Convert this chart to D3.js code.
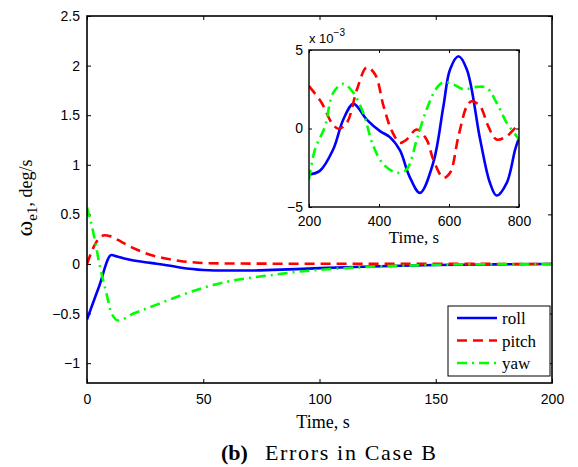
<!DOCTYPE html>
<html>
<head>
<meta charset="utf-8">
<script src="https://cdn.jsdelivr.net/npm/d3@7"></script>
<style>
  body { margin: 0; background: #fff; }
  svg { display: block; }
  .tick text { font-family: "Liberation Sans", Arial, sans-serif; font-size: 14px; fill: #000; }
  .tick line { stroke: #000; }
</style>
</head>
<body>
<svg id="chart"></svg>
<script>
// main plot, 0..200 s
const tMainRoll = [0, 5, 10.5, 13, 17, 20, 25, 30, 35, 40, 50, 60, 70, 80, 90, 100, 115, 130, 150, 175, 200];
const roll = [-0.56, -0.24, 0.09, 0.075, 0.05, 0.035, 0.018, 0.003, -0.015, -0.035, -0.06, -0.066, -0.066, -0.06, -0.052, -0.042, -0.03, -0.02, -0.01, -0.004, 0];
const tMainPitch = [0, 3.5, 7.5, 10, 15, 20, 25, 30, 35, 40, 45, 50, 60, 80, 100, 150, 200];
const pitch = [0, 0.2, 0.29, 0.28, 0.22, 0.16, 0.11, 0.075, 0.05, 0.03, 0.018, 0.01, 0.005, 0.003, 0.002, 0.001, 0];
const tMainYaw = [0, 2.7, 5.6, 8.4, 10.6, 13.5, 20, 30, 40, 50, 60, 70, 80, 90, 100, 120, 140, 160, 200];
const yaw = [0.57, 0.32, -0.03, -0.3, -0.5, -0.57, -0.5, -0.41, -0.32, -0.24, -0.18, -0.14, -0.11, -0.08, -0.06, -0.03, -0.015, -0.005, 0];

// inset, 200..800 s, values x 1e-3
const tInRoll = [200, 231, 269, 298, 327, 365, 403, 431, 460, 486, 517, 555, 584, 603, 627, 651, 689, 717, 736, 765, 789, 800];
const rollIn = [-2.93, -2.7, -1.34, 0.57, 1.57, 0.57, -0.17, -0.55, -1.4, -3.0, -4.1, -2.18, 1.42, 3.76, 4.6, 3.76, -0.7, -3.46, -4.27, -3.46, -1.34, -0.6];
const tInPitch = [200, 236, 265, 284, 308, 337, 365, 389, 413, 437, 460, 479, 508, 536, 555, 584, 603, 627, 651, 665, 689, 712, 736, 765, 793, 800];
const pitchIn = [2.7, 1.64, 0.36, -0.02, 0.36, 2.48, 3.9, 3.44, 1.42, -0.17, -0.91, -0.7, -0.06, -0.7, -1.97, -3.14, -2.82, -0.49, 1.42, 1.74, 1.42, 0.15, -0.7, -0.49, 0.1, 0.15];
const tInYaw = [200, 217, 246, 269, 298, 327, 355, 384, 413, 451, 479, 508, 536, 565, 584, 613, 641, 679, 708, 736, 765, 793, 800];
const yawIn = [-3.25, -1.34, 0.15, 2.27, 2.85, 2.27, 1.0, -1.13, -2.29, -2.82, -2.6, -0.7, 1.21, 2.59, 2.95, 2.8, 2.5, 2.65, 2.59, 1.64, 0.36, -0.49, -0.7];

const xTicksMain = [0, 50, 100, 150, 200];
const yTicksMain = [-1, -0.5, 0, 0.5, 1, 1.5, 2, 2.5];
const xTicksIn = [200, 400, 600, 800];
const yTicksIn = [-5, 0, 5];
const legendNames = ["roll", "pitch", "yaw"];

let width = 578;
let height = 467;
let svg = d3.select("#chart").attr("width", width).attr("height", height);

let styles = [
  {color: "#0000ff", dash: null},
  {color: "#ff0000", dash: "10,6"},
  {color: "#00ff00", dash: "10,5,2,5"}
];

let fmt = d => String(d).replace("-", "\u2212");

// ---- main axes
let x = d3.scaleLinear().domain([0, 200]).range([87, 552]);
let y = d3.scaleLinear().domain([-1.2, 2.5]).range([383, 16]);

svg.append("clipPath").attr("id", "clipMain")
  .append("rect").attr("x", 87).attr("y", 16).attr("width", 465).attr("height", 367);

svg.append("g").attr("transform", "translate(0,383)")
  .call(d3.axisBottom(x).tickValues(xTicksMain).tickSize(-4).tickPadding(11).tickFormat(fmt))
  .call(g => g.select(".domain").remove());
svg.append("g").attr("transform", "translate(87,0)")
  .call(d3.axisLeft(y).tickValues(yTicksMain).tickSize(-4).tickPadding(7).tickFormat(fmt))
  .call(g => g.select(".domain").remove());
svg.append("g").attr("transform", "translate(0,16)")
  .call(d3.axisTop(x).tickValues(xTicksMain).tickSize(-4).tickFormat(""))
  .call(g => g.select(".domain").remove());
svg.append("g").attr("transform", "translate(552,0)")
  .call(d3.axisRight(y).tickValues(yTicksMain).tickSize(-4).tickFormat(""))
  .call(g => g.select(".domain").remove());

let mainSeries = [[tMainRoll, roll], [tMainPitch, pitch], [tMainYaw, yaw]];
let lineMain = d3.line().x(d => x(d[0])).y(d => y(d[1])).curve(d3.curveMonotoneX);

svg.append("g").attr("clip-path", "url(#clipMain)")
  .selectAll("path")
  .data(mainSeries)
  .enter()
  .append("path")
  .attr("fill", "none")
  .attr("stroke", (d, i) => styles[i].color)
  .attr("stroke-width", 2.6)
  .attr("stroke-dasharray", (d, i) => styles[i].dash)
  .attr("d", d => lineMain(d3.zip(d[0], d[1])));

svg.append("rect").attr("x", 87).attr("y", 16).attr("width", 465).attr("height", 367)
  .attr("fill", "none").attr("stroke", "#000").attr("stroke-width", 1.6);

// axis labels
svg.append("text")
  .attr("x", 323).attr("y", 428)
  .attr("text-anchor", "middle")
  .style("font-family", "'Liberation Serif', serif").style("font-size", "18px")
  .text("Time, s");

let yl = svg.append("text")
  .attr("transform", "translate(32,198) rotate(-90)")
  .attr("text-anchor", "middle")
  .style("font-family", "'Liberation Serif', serif").style("font-size", "18px");
yl.append("tspan").style("font-size", "24px").text("ω");
yl.append("tspan").attr("dy", 5).style("font-size", "15px").text("e1");
yl.append("tspan").attr("dy", -5).text(", deg/s");

// caption
let cap = svg.append("text")
  .attr("y", 460)
  .style("font-family", "'Liberation Serif', serif").style("font-size", "22px");
cap.append("tspan").attr("x", 221).style("font-weight", "bold").text("(b)");
cap.append("tspan").attr("x", 265).attr("textLength", 171).attr("lengthAdjust", "spacing").text("Errors in Case B");

// ---- legend
let leg = svg.append("g");
leg.append("rect").attr("x", 448).attr("y", 306).attr("width", 102).attr("height", 70)
  .attr("fill", "#fff").attr("stroke", "#000").attr("stroke-width", 1);
legendNames.forEach((name, i) => {
  let ly = 318 + i * 22.5;
  leg.append("line")
    .attr("x1", 457).attr("x2", 497).attr("y1", ly).attr("y2", ly)
    .attr("stroke", styles[i].color).attr("stroke-width", 2.6)
    .attr("stroke-dasharray", styles[i].dash);
  leg.append("text")
    .attr("x", 502).attr("y", ly + 6)
    .style("font-family", "'Liberation Serif', serif").style("font-size", "17px")
    .text(name);
});

// ---- inset
let xi = d3.scaleLinear().domain([200, 800]).range([309, 519]);
let yi = d3.scaleLinear().domain([-5, 5]).range([207, 50]);

svg.append("rect").attr("x", 309).attr("y", 50).attr("width", 210).attr("height", 157)
  .attr("fill", "#fff");
svg.append("clipPath").attr("id", "clipIn")
  .append("rect").attr("x", 309).attr("y", 50).attr("width", 210).attr("height", 157);

svg.append("g").attr("transform", "translate(0,207)")
  .call(d3.axisBottom(xi).tickValues(xTicksIn).tickSize(-3).tickPadding(9).tickFormat(fmt))
  .call(g => g.select(".domain").remove());
svg.append("g").attr("transform", "translate(309,0)")
  .call(d3.axisLeft(yi).tickValues(yTicksIn).tickSize(-3).tickPadding(6).tickFormat(fmt))
  .call(g => g.select(".domain").remove());
svg.append("g").attr("transform", "translate(0,50)")
  .call(d3.axisTop(xi).tickValues(xTicksIn).tickSize(-3).tickFormat(""))
  .call(g => g.select(".domain").remove());
svg.append("g").attr("transform", "translate(519,0)")
  .call(d3.axisRight(yi).tickValues(yTicksIn).tickSize(-3).tickFormat(""))
  .call(g => g.select(".domain").remove());

let inSeries = [[tInRoll, rollIn], [tInPitch, pitchIn], [tInYaw, yawIn]];
let lineIn = d3.line().x(d => xi(d[0])).y(d => yi(d[1])).curve(d3.curveCatmullRom.alpha(0.5));

svg.append("g").attr("clip-path", "url(#clipIn)")
  .selectAll("path")
  .data(inSeries)
  .enter()
  .append("path")
  .attr("fill", "none")
  .attr("stroke", (d, i) => styles[i].color)
  .attr("stroke-width", 2.6)
  .attr("stroke-dasharray", (d, i) => styles[i].dash)
  .attr("d", d => lineIn(d3.zip(d[0], d[1])));

svg.append("rect").attr("x", 309).attr("y", 50).attr("width", 210).attr("height", 157)
  .attr("fill", "none").attr("stroke", "#000").attr("stroke-width", 1.4);

let ex = svg.append("text")
  .attr("x", 309).attr("y", 43)
  .style("font-family", "'Liberation Sans', Arial, sans-serif").style("font-size", "13px");
ex.append("tspan").text("x 10");
ex.append("tspan").attr("dy", -7).style("font-size", "10px").text("\u22123");

svg.append("text")
  .attr("x", 414).attr("y", 243)
  .attr("text-anchor", "middle")
  .style("font-family", "'Liberation Serif', serif").style("font-size", "17px")
  .text("Time, s");
</script>
</body>
</html>
